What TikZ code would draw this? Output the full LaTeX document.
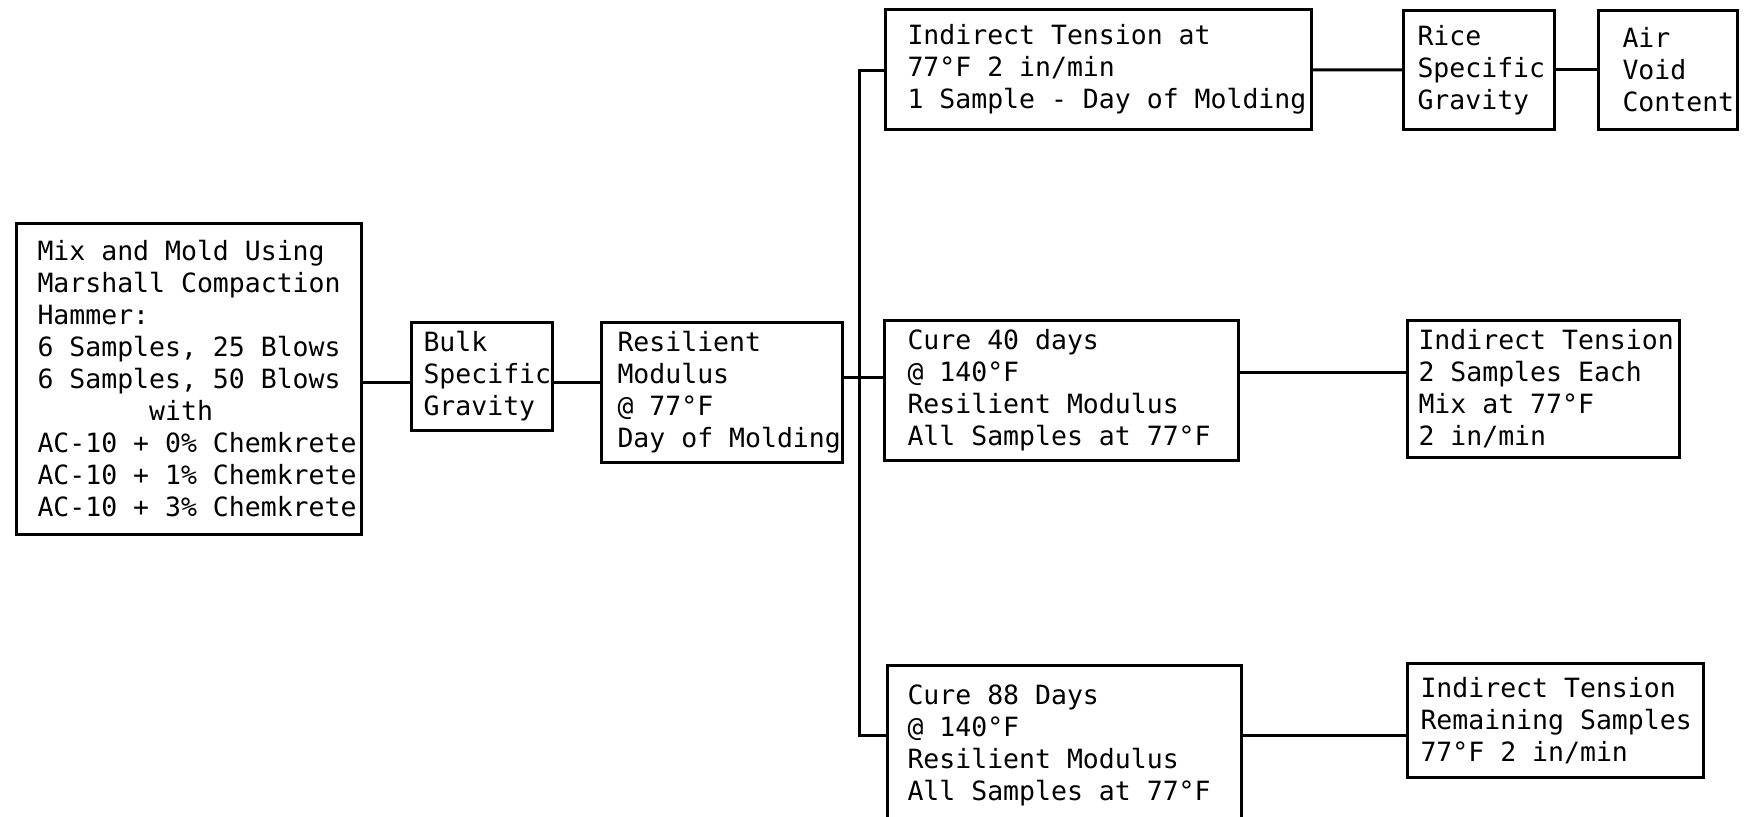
\documentclass[tikz,border=0pt]{standalone}
\usepackage{fontspec}
\newfontfamily\boxfont{DejaVu Sans Mono}[WordSpace={1,0,0}]
% one fixed cell per space, as on a typewriter
\newcommand\boxtext{\boxfont\fontsize{13.25}{16}\selectfont
  \hyphenpenalty=10000\exhyphenpenalty=10000
  \def~{\nobreak\hskip\fontcharwd\font`M\relax}}
\begin{document}
\begin{tikzpicture}
  [x=0.5pt,y=-0.5pt,line width=1.5pt,
   every node/.style={draw,anchor=north west,align=left,inner ysep=0pt,font=\boxtext}]
  \useasboundingbox (0,0) rectangle (1744,817);
  \node[inner xsep=10.5pt,text width=151.5pt,minimum height=155.5pt] (mix) at (15,222)
    {Mix~and~Mold~Using\\Marshall~Compaction\\Hammer:\\6~Samples,~25~Blows\\6~Samples,~50~Blows\\
     \phantom{0000000}with\\AC-10~+~0\%~Chemkrete\\AC-10~+~1\%~Chemkrete\\AC-10~+~3\%~Chemkrete};
  \node[inner xsep=6pt,text width=58.5pt,minimum height=54pt] (bulk) at (410,321) {Bulk\\Specific\\Gravity};
  \node[inner xsep=8pt,text width=104.5pt,minimum height=70pt] (res) at (600,321)
    {Resilient\\Modulus\\@~77°F\\Day~of~Molding};
  \node[inner xsep=11pt,text width=191pt,minimum height=60pt] (it1) at (884,8)
    {Indirect~Tension~at\\77°F~2~in/min\\1~Sample~-~Day~of~Molding};
  \node[inner xsep=7pt,text width=61.5pt,minimum height=59.5pt] (rice) at (1402,9) {Rice\\Specific\\Gravity};
  \node[inner xsep=12pt,text width=45.5pt,minimum height=59.5pt] (air) at (1597,9) {Air\\Void\\Content};
  \node[inner xsep=11.5pt,text width=154pt,minimum height=70pt] (cure40) at (883,319)
    {Cure~40~days\\@~140°F\\Resilient~Modulus\\All~Samples~at~77°F};
  \node[inner xsep=5.5pt,text width=125pt,minimum height=68.5pt] (it2) at (1406,319)
    {Indirect~Tension\\2~Samples~Each\\Mix~at~77°F\\2~in/min};
  \node[inner xsep=10pt,text width=157pt,minimum height=80pt] (cure88) at (886,664)
    {Cure~88~Days\\@~140°F\\Resilient~Modulus\\All~Samples~at~77°F};
  \node[inner xsep=6.5pt,text width=135pt,minimum height=57pt] (it3) at (1406,662)
    {Indirect~Tension\\Remaining~Samples\\77°F~2~in/min};

  \coordinate (left) at (380,383);
  \coordinate (midL) at (859,378);
  \coordinate (midR) at (1300,373);
  \coordinate (top) at (859,71);
  \coordinate (bot) at (859,735);

  \draw (mix.east |- left) -- (bulk.west |- left);
  \draw (bulk.east |- left) -- (res.west |- left);
  \draw (res.east |- midL) -- (cure40.west |- midL);
  \draw (it1.west |- top) -- (top) -- (bot) -- (bot -| cure88.west);
  \draw (cure40.east |- midR) -- (it2.west |- midR);
  \draw (bot -| cure88.east) -- (bot -| it3.west);
  \foreach \from/\to in {it1/rice,rice/air}
     \draw (\from) -- (\to);
\end{tikzpicture}
\end{document}
